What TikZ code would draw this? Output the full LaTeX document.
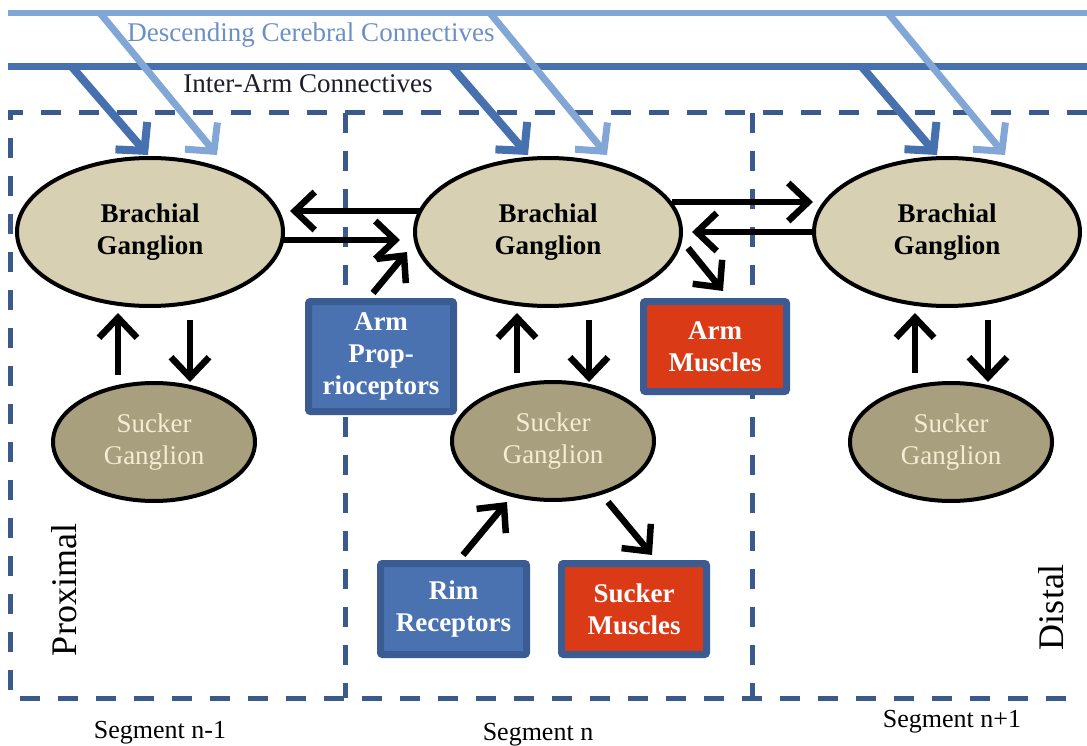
\documentclass[tikz,border=0pt]{standalone}
\usepackage{fontspec}
\setmainfont{Liberation Serif}
\usetikzlibrary{shapes.geometric,arrows.meta}

\definecolor{descblue}{HTML}{82A7D7}
\definecolor{desctext}{HTML}{6A90C6}
\definecolor{armblue}{HTML}{4670AE}
\definecolor{labeltext}{HTML}{1C1C2C}
\definecolor{segdash}{HTML}{3A5A8C}
\definecolor{brfill}{HTML}{D8D0B2}
\definecolor{skfill}{HTML}{A89F7E}
\definecolor{sktext}{HTML}{F4EDD2}
\definecolor{boxedge}{HTML}{3A5C92}
\definecolor{boxblue}{HTML}{4A72B0}
\definecolor{boxred}{HTML}{DB3A16}

\begin{document}
\begin{tikzpicture}[x=1pt,y=-1pt,
  txt/.style={font=\fontsize{27}{32}\selectfont},
  brachial/.style={ellipse, draw=black, line width=4pt, fill=brfill,
    minimum width=266pt, minimum height=148pt, inner sep=0pt, align=center,
    text=black, font=\bfseries\fontsize{27}{32}\selectfont},
  sucker/.style={ellipse, draw=black, line width=4pt, fill=skfill,
    minimum width=202pt, minimum height=118pt, inner sep=0pt, align=center,
    text=sktext, font=\fontsize{27}{32}\selectfont},
  sensebox/.style={rectangle, draw=boxedge, line width=7pt, fill=boxblue,
    rounded corners=2pt, inner sep=0pt, align=center, text=white,
    font=\bfseries\fontsize{27}{32}\selectfont},
  musclebox/.style={sensebox, fill=boxred},
  link/.style={line width=6.5pt, black, -{Straight Barb[length=20pt,width=38pt,line width=6.5pt]}},
  descarrow/.style={line width=7pt, descblue, -{Straight Barb[length=20pt,width=42pt,line width=7pt]}},
  armarrow/.style={line width=8pt, armblue, -{Straight Barb[length=20pt,width=42pt,line width=8pt]}},
  segline/.style={segdash, line width=5pt, dash pattern=on 20pt off 18pt},
]
\useasboundingbox (0,0) rectangle (1087,746);

% segment frames
\draw[segline] (1087,113) -- (10,113) -- (10,698) -- (1078,698);
\draw[segline] (345,113) -- (345,698);
\draw[segline] (752,113) -- (752,698);

% connective tracts along the arm
\draw[descblue, line width=6pt] (8,13) -- (1087,13);
\draw[armblue, line width=7pt] (8,67) -- (1087,67);
\node[txt, text=desctext, anchor=base] (dcl) at (311,42) {Descending Cerebral Connectives};
\node[txt, text=labeltext, anchor=base] (iacl) at (308,93) {Inter-Arm Connectives};

% ganglia
\node[brachial] (b1) at (150,232) {Brachial\\Ganglion};
\node[brachial] (b2) at (548,232) {Brachial\\Ganglion};
\node[brachial] (b3) at (947,232) {Brachial\\Ganglion};
\node[sucker] (s1) at (154,442) {Sucker\\Ganglion};
\node[sucker] (s2) at (553,441) {Sucker\\Ganglion};
\node[sucker] (s3) at (951,442) {Sucker\\Ganglion};

% receptors and effectors
\node[sensebox, minimum width=145pt, minimum height=110pt] (prop) at (381,356.5) {Arm\\Prop-\\rioceptors};
\node[musclebox, minimum width=143pt, minimum height=90pt] (armm) at (715,346.5) {Arm\\Muscles};
\node[sensebox, minimum width=146pt, minimum height=91pt] (rim) at (453.5,609) {Rim\\Receptors};
\node[musclebox, minimum width=145pt, minimum height=91pt] (skm) at (634,609) {Sucker\\Muscles};

% side and segment labels
\node[font=\fontsize{36}{40}\selectfont, rotate=90, anchor=base] (prox) at (76,590) {Proximal};
\node[font=\fontsize{36}{40}\selectfont, rotate=90, anchor=base] (dist) at (1063,607) {Distal};
\node[font=\fontsize{26}{30}\selectfont, anchor=base] (sg1) at (160,738) {Segment n-1};
\node[font=\fontsize{26}{30}\selectfont, anchor=base] (sg2) at (538,740) {Segment n};
\node[font=\fontsize{26}{30}\selectfont, anchor=base] (sg3) at (952,727) {Segment n+1};

% entry points on the connective tracts
\coordinate (d1) at (100,13);
\coordinate (d2) at (490,13);
\coordinate (d3) at (888,13);
\coordinate (a1) at (72,67);
\coordinate (a2) at (452,67);
\coordinate (a3) at (862,67);
% arrival points above the brachial ganglia
\coordinate (d1t) at (217,155);
\coordinate (d2t) at (607,155);
\coordinate (d3t) at (1005,155);
\coordinate (a1t) at (148,155);
\coordinate (a2t) at (528,155);
\coordinate (a3t) at (937,155);

\draw[descarrow] (d1) -- (d1t);
\draw[descarrow] (d2) -- (d2t);
\draw[descarrow] (d3) -- (d3t);
\draw[armarrow] (a1) -- (a1t);
\draw[armarrow] (a2) -- (a2t);
\draw[armarrow] (a3) -- (a3t);

% inter-segment links
\coordinate (b2w1) at (420,211);
\coordinate (b1e1) at (290,211);
\coordinate (b1e2) at (283,240);
\coordinate (b2w2) at (400,240);
\coordinate (b2e1) at (672,202);
\coordinate (b3w1) at (813,202);
\coordinate (b3w2) at (815,232);
\coordinate (b2e2) at (692,232);
\draw[link] (b2w1) -- (b1e1);
\draw[link] (b1e2) -- (b2w2);
\draw[link] (b2e1) -- (b3w1);
\draw[link] (b3w2) -- (b2e2);

% sensory input and motor output
\coordinate (propt) at (373,293);
\coordinate (b2sw) at (407,252);
\draw[link] (propt) -- (b2sw);
\coordinate (b2se) at (688,248);
\coordinate (armmt) at (723,291);
\draw[link] (b2se) -- (armmt);
\coordinate (rimt) at (463,555);
\coordinate (s2sw) at (507,502);
\draw[link] (rimt) -- (s2sw);
\coordinate (s2se) at (608,502);
\coordinate (skmt) at (652,555);
\draw[link] (s2se) -- (skmt);

% brachial <-> sucker ganglion links
\draw[link] (118,375) -- (118,313);
\draw[link] (190,320) -- (190,382);
\draw[link] (517,373) -- (517,313);
\draw[link] (589,320) -- (589,382);
\draw[link] (915,373) -- (915,313);
\draw[link] (988,320) -- (988,382);
\end{tikzpicture}
\end{document}
